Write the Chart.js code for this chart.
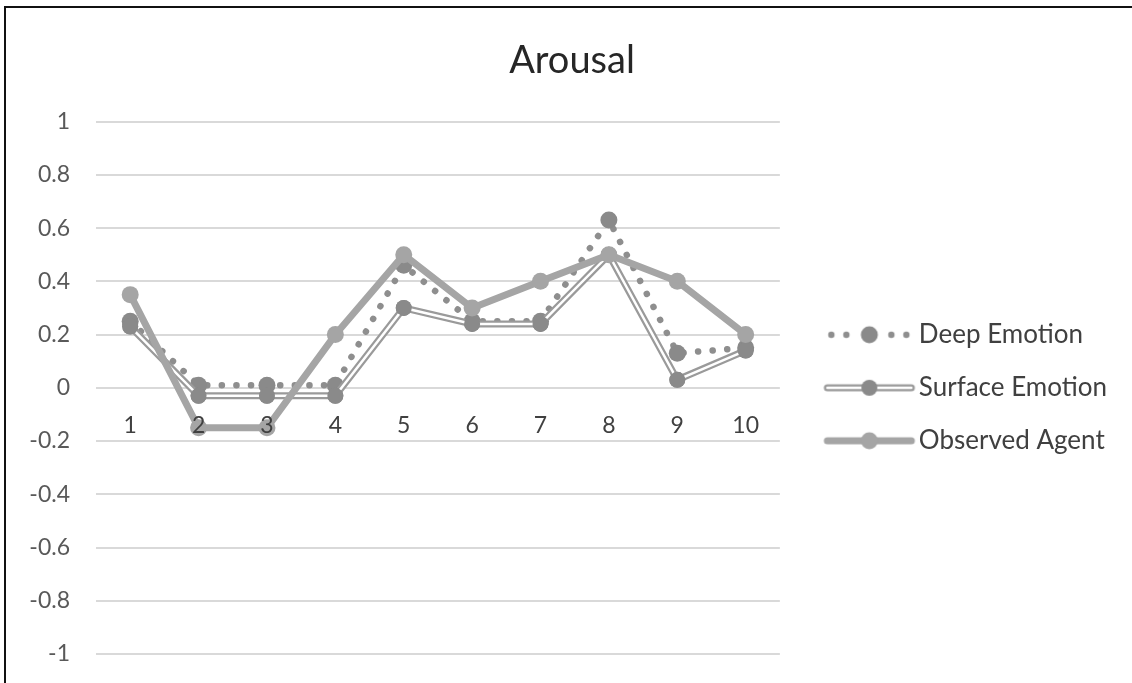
<!DOCTYPE html>
<html lang="en">
  <head>
    <meta charset="UTF-8">
    <title>Arousal</title>
    <script src="https://cdn.jsdelivr.net/npm/chart.js"></script>
    <style>
      html, body { margin: 0; padding: 0; background: #fff; }
      #wrap { position: relative; width: 1132px; height: 683px; }
      #frame {
        position: absolute; left: 4px; top: 6px; right: 0; bottom: 0;
        border-top: 2px solid #111; border-left: 2px solid #111;
        pointer-events: none;
      }
    </style>
  </head>
  <body>
  <div id="wrap">
    <canvas id="chart" width="1132" height="683"></canvas>
    <div id="frame"></div>
  </div>
  <script>

const labels = ['1', '2', '3', '4', '5', '6', '7', '8', '9', '10'];
const deepEmotion = [0.25, 0.01, 0.01, 0.01, 0.46, 0.25, 0.25, 0.63, 0.13, 0.15];
const surfaceEmotion = [0.23, -0.03, -0.03, -0.03, 0.30, 0.24, 0.24, 0.50, 0.03, 0.14];
const observedAgent = [0.35, -0.15, -0.15, 0.20, 0.50, 0.30, 0.40, 0.50, 0.40, 0.20];

const FONT = 'Lato';
const TEXT = '#404040';

// small pictures used as legend symbols (line + marker, like the office legend)
function makeIcon(kind) {
  const c = document.createElement('canvas');
  c.width = 130; c.height = 24;
  const g = c.getContext('2d');
  const cx = 78, cy = 12, half = 42;
  if (kind === 'deep') {
    g.fillStyle = '#8e8e8e';
    [-38, -23, 22, 37].forEach(dx => {
      g.beginPath(); g.arc(cx + dx, cy, 3.2, 0, Math.PI * 2); g.fill();
    });
    g.fillStyle = '#8a8a8a';
    g.beginPath(); g.arc(cx, cy, 8.5, 0, Math.PI * 2); g.fill();
  } else if (kind === 'surface') {
    g.lineCap = 'round';
    g.strokeStyle = '#9a9a9a'; g.lineWidth = 7;
    g.beginPath(); g.moveTo(cx - half, cy); g.lineTo(cx + half, cy); g.stroke();
    g.strokeStyle = '#fff'; g.lineWidth = 2.5;
    g.beginPath(); g.moveTo(cx - half, cy); g.lineTo(cx + half, cy); g.stroke();
    g.fillStyle = '#8a8a8a';
    g.beginPath(); g.arc(cx, cy, 8, 0, Math.PI * 2); g.fill();
  } else {
    g.lineCap = 'round';
    g.strokeStyle = '#a5a5a5'; g.lineWidth = 7;
    g.beginPath(); g.moveTo(cx - half, cy); g.lineTo(cx + half, cy); g.stroke();
    g.fillStyle = '#a5a5a5';
    g.beginPath(); g.arc(cx, cy, 8.5, 0, Math.PI * 2); g.fill();
  }
  return c;
}
const icons = [makeIcon('deep'), makeIcon('surface'), makeIcon('observed')];

// white core of the "double" line, then redraw markers on top of it
const doubleLine = {
  id: 'doubleLine',
  afterDatasetDraw(chart, args) {
    if (args.index !== 1) return;
    const pts = args.meta.data;
    const ctx = chart.ctx;
    ctx.save();
    ctx.beginPath();
    pts.forEach((p, i) => i ? ctx.lineTo(p.x, p.y) : ctx.moveTo(p.x, p.y));
    ctx.lineWidth = 2.5;
    ctx.strokeStyle = '#fff';
    ctx.lineJoin = 'miter';
    ctx.stroke();
    pts.forEach(p => p.draw(ctx, chart.chartArea));
    ctx.restore();
  }
};

const ctx = document.getElementById('chart');
const chart = new Chart(ctx, {
  type: 'line',
  data: {
    labels: labels,
    datasets: [
      {
        label: 'Deep Emotion',
        data: deepEmotion,
        order: 3,
        borderColor: '#8e8e8e',
        borderWidth: 6.5,
        borderDash: [0.1, 14.5],
        borderCapStyle: 'round',
        pointRadius: 8.5,
        pointBackgroundColor: '#8a8a8a',
        pointBorderWidth: 0,
        tension: 0
      },
      {
        label: 'Surface Emotion',
        data: surfaceEmotion,
        order: 2,
        borderColor: '#9a9a9a',
        borderWidth: 7,
        pointRadius: 8,
        pointBackgroundColor: '#8a8a8a',
        pointBorderWidth: 0,
        tension: 0
      },
      {
        label: 'Observed Agent',
        data: observedAgent,
        order: 1,
        borderColor: '#a5a5a5',
        borderWidth: 7,
        pointRadius: 8.5,
        pointBackgroundColor: '#a5a5a5',
        pointBorderWidth: 0,
        tension: 0
      }
    ]
  },
  options: {
    responsive: false,
    animation: false,
    events: [],
    layout: { padding: { top: 18, left: 27, right: 15, bottom: 29 } },
    scales: {
      x: {
        position: { y: 0 },
        offset: true,
        grid: { display: false, drawTicks: false },
        border: { display: false },
        ticks: { z: 1, color: TEXT, padding: 24, font: { family: FONT, size: 23 } }
      },
      y: {
        min: -1,
        max: 1,
        afterFit: (scale) => { scale.width = 69; },
        ticks: {
          stepSize: 0.2,
          color: '#595959',
          padding: 4,
          font: { family: FONT, size: 23 },
          callback: (v) => String(+v.toFixed(1))
        },
        grid: { color: '#d9d9d9', lineWidth: 2, drawTicks: true, tickLength: 22, tickColor: 'rgba(0,0,0,0)' },
        border: { display: false }
      }
    },
    plugins: {
      title: {
        display: true,
        text: 'Arousal',
        color: '#262626',
        font: { family: FONT, size: 38, weight: 'normal' },
        padding: { top: 20, bottom: 38 }
      },
      legend: {
        position: 'right',
        fullSize: false,
        maxWidth: 420,
        labels: {
          usePointStyle: true,
          pointStyleWidth: 99,
          padding: 27,
          color: TEXT,
          font: { family: FONT, size: 26 },
          generateLabels: (chart) => chart.data.datasets.map((ds, i) => ({
            text: ds.label,
            pointStyle: icons[i],
            datasetIndex: i,
            fontColor: TEXT,
            lineWidth: 0,
            hidden: false
          }))
        }
      },
      tooltip: { enabled: false }
    }
  },
  plugins: [doubleLine]
});

</script>
  </body>
</html>
